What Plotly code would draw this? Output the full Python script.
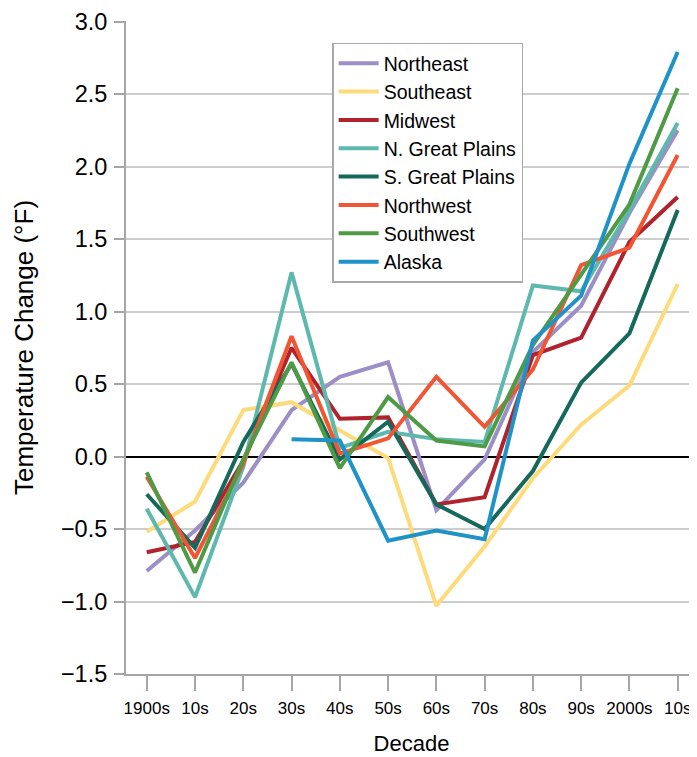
import plotly.graph_objects as go

# Decades on the x axis
decades = ["1900s", "10s", "20s", "30s", "40s", "50s", "60s", "70s",
           "80s", "90s", "2000s", "10s "]
decade_labels = ["1900s", "10s", "20s", "30s", "40s", "50s", "60s", "70s",
                 "80s", "90s", "2000s", "10s"]

# Temperature change (°F) per region
northeast = [-0.79, -0.51, -0.18, 0.32, 0.55, 0.65, -0.37, -0.02, 0.72, 1.04, 1.68, 2.25]
southeast = [-0.52, -0.31, 0.32, 0.375, 0.18, -0.01, -1.03, -0.62, -0.15, 0.22, 0.49, 1.19]
midwest = [-0.66, -0.59, -0.03, 0.75, 0.26, 0.27, -0.33, -0.28, 0.70, 0.82, 1.48, 1.79]
n_great_plains = [-0.36, -0.97, -0.07, 1.27, 0.06, 0.17, 0.12, 0.10, 1.18, 1.14, 1.70, 2.30]
s_great_plains = [-0.26, -0.63, 0.10, 0.64, -0.02, 0.24, -0.33, -0.50, -0.10, 0.51, 0.85, 1.70]
northwest = [-0.14, -0.70, -0.05, 0.83, 0.02, 0.125, 0.55, 0.205, 0.60, 1.32, 1.44, 2.08]
southwest = [-0.11, -0.80, -0.02, 0.65, -0.08, 0.41, 0.11, 0.07, 0.77, 1.26, 1.74, 2.54]
alaska = [None, None, None, 0.12, 0.11, -0.58, -0.51, -0.57, 0.80, 1.11, 2.02, 2.79]

series = [
    ("Northeast", northeast, "#9b8fc6"),
    ("Southeast", southeast, "#fedb7a"),
    ("Midwest", midwest, "#b0222c"),
    ("N. Great Plains", n_great_plains, "#5db9ad"),
    ("S. Great Plains", s_great_plains, "#15695b"),
    ("Northwest", northwest, "#f15533"),
    ("Southwest", southwest, "#4f9a44"),
    ("Alaska", alaska, "#1f93c8"),
]

fig = go.Figure()

for name, values, color in series:
    fig.add_trace(
        go.Scatter(
            x=decades,
            y=values,
            mode="lines",
            name=name,
            line=dict(color=color, width=4),
            connectgaps=False,
        )
    )

# page body adds an 8px offset, margins compensate for it
fig.update_layout(
    width=697,
    height=757,
    margin=dict(l=118, r=8, t=13, b=91),
    plot_bgcolor="white",
    paper_bgcolor="white",
    font=dict(family="Liberation Sans, Arial, sans-serif", size=20, color="black"),
    showlegend=True,
    legend=dict(
        x=0.361,
        y=0.967,
        xanchor="left",
        yanchor="top",
        bordercolor="#a8a8a8",
        borderwidth=1.5,
        bgcolor="white",
        font=dict(size=19.5),
        itemwidth=40,
        tracegroupgap=0,
    ),
)

fig.update_xaxes(
    type="category",
    categoryorder="array",
    categoryarray=decades,
    tickvals=decades,
    ticktext=decade_labels,
    range=[-0.43, 11.4],
    automargin=False,
    showgrid=False,
    showline=True,
    linecolor="#a6a6a6",
    linewidth=2,
    ticks="outside",
    ticklen=15,
    tickwidth=2,
    tickcolor="#a6a6a6",
    ticklabelstandoff=3,
    tickfont=dict(size=17),
    title=dict(text="Decade", font=dict(size=22), standoff=18),
)

fig.update_yaxes(
    range=[-1.5, 3.004],
    tickvals=[-1.5, -1.0, -0.5, 0.0, 0.5, 1.0, 1.5, 2.0, 2.5, 3.0],
    tickformat=".1f",
    automargin=False,
    ticklabeloverflow="allow",
    showgrid=True,
    gridcolor="#cdcdcd",
    gridwidth=2,
    zeroline=True,
    zerolinecolor="black",
    zerolinewidth=2,
    showline=True,
    linecolor="#a6a6a6",
    linewidth=2,
    ticks="outside",
    ticklen=10,
    tickwidth=2,
    tickcolor="#a6a6a6",
    ticklabelstandoff=2,
    tickfont=dict(size=23.5),
    title=dict(text="Temperature Change (°F)", font=dict(size=26), standoff=20),
)

fig.write_html("out.html")
